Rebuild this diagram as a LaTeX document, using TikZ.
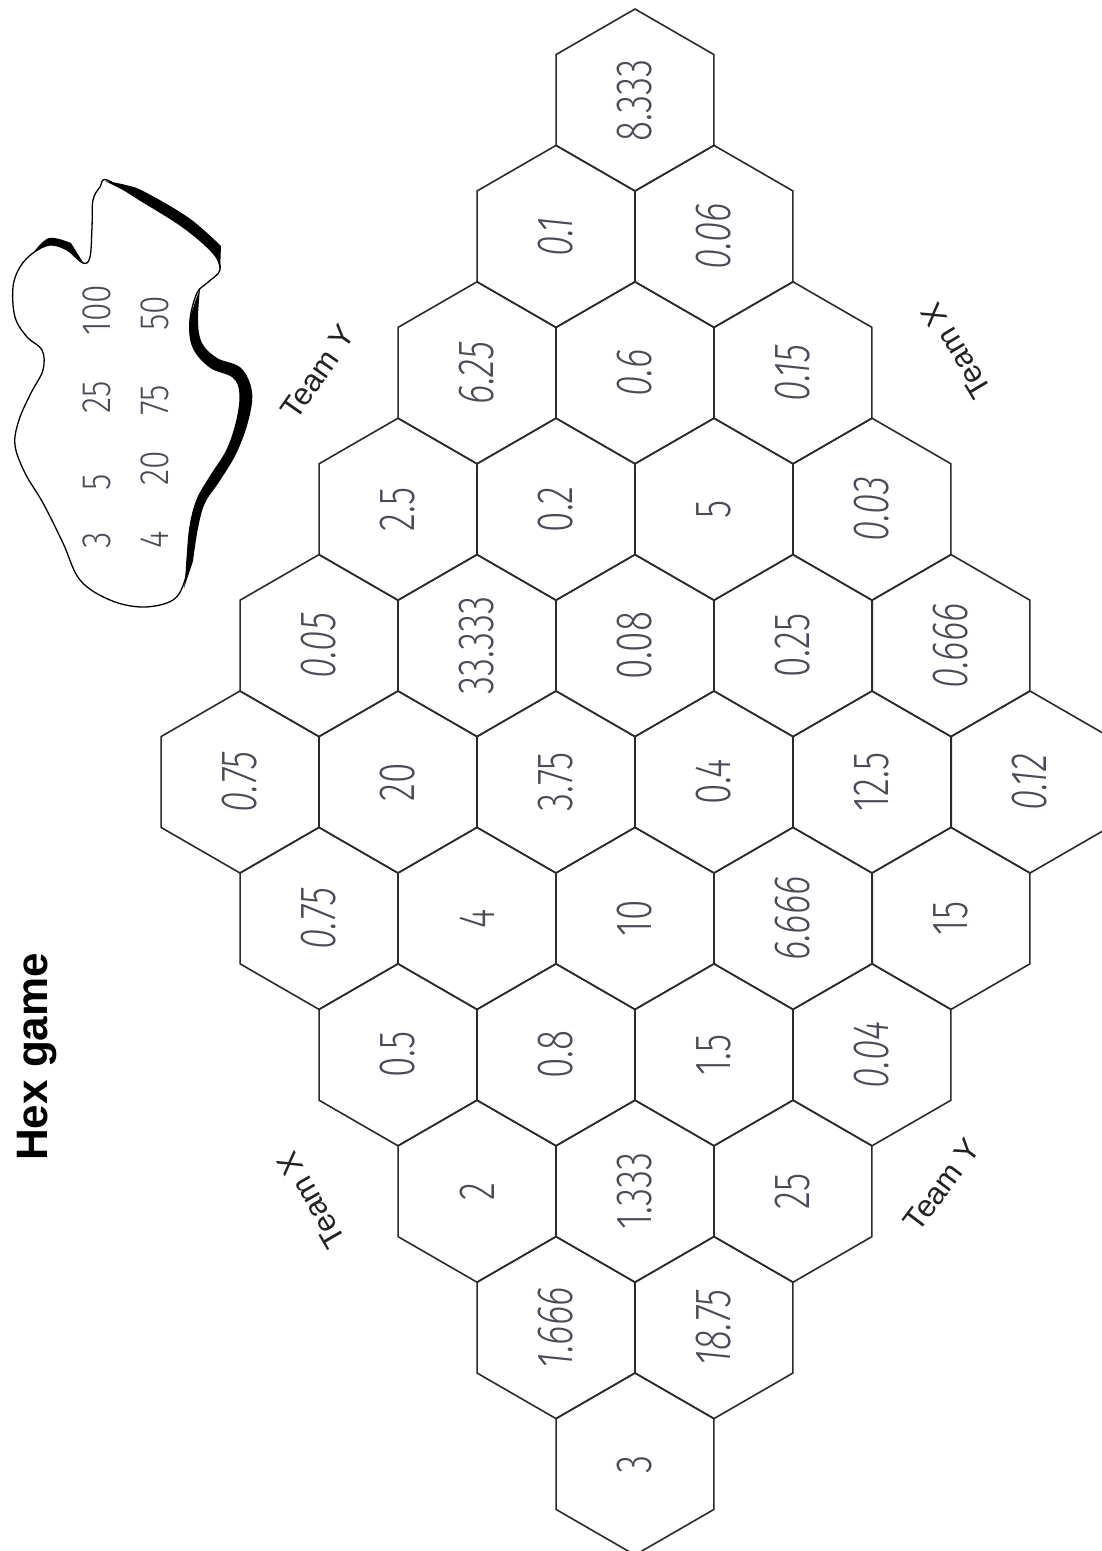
\documentclass[tikz,border=0pt]{standalone}
\usepackage{fontspec}
\usepackage{graphicx}
\setmainfont{Liberation Sans}
\newfontfamily\numfont{Fira Sans}[UprightFont={* Light},ItalicFont={* Light Italic}]
\usetikzlibrary{shapes.geometric}
\definecolor{hexline}{HTML}{2B2B2B}
\definecolor{numcol}{HTML}{4A4A58}
\definecolor{lblcol}{HTML}{222222}
\begin{document}
\begin{tikzpicture}[x=1pt,y=-1pt,
  hexcell/.style={regular polygon, regular polygon sides=6, regular polygon rotate=30,
    minimum size=182pt, inner sep=0pt, outer sep=0pt, draw=hexline, line width=1.6pt},
  numtxt/.style={text=numcol, inner sep=0pt, rotate=90, font={\numfont\fontsize{51}{60}\selectfont}},
  blobnum/.style={text=numcol, inner sep=0pt, rotate=90, font={\numfont\fontsize{41}{48}\selectfont}},
  teamlbl/.style={text=lblcol, inner sep=0pt, font={\fontsize{31}{36}\selectfont}},
  blobline/.style={draw=black, line width=1.3pt},
  blobfill/.style={fill=black}
]
\fill[white] (0,0) rectangle (1102,1551);
\useasboundingbox (0,0) rectangle (1102,1551);

% board
\foreach \n/\r/\k/\txt/\st in {
 1/1/0/8.333/\upshape,
 2/2/-1/0.1/\itshape, 3/2/1/0.06/\itshape,
 4/3/-2/6.25/\itshape, 5/3/0/0.6/\itshape, 6/3/2/0.15/\itshape,
 7/4/-3/2.5/\upshape, 8/4/-1/0.2/\upshape, 9/4/1/5/\upshape, 10/4/3/0.03/\itshape,
 11/5/-4/0.05/\itshape, 12/5/-2/33.333/\upshape, 13/5/0/0.08/\upshape, 14/5/2/0.25/\upshape, 15/5/4/0.666/\itshape,
 16/6/-5/0.75/\itshape, 17/6/-3/20/\upshape, 18/6/-1/3.75/\upshape, 19/6/1/0.4/\upshape, 20/6/3/12.5/\upshape, 21/6/5/0.12/\itshape,
 22/7/-4/0.75/\itshape, 23/7/-2/4/\upshape, 24/7/0/10/\upshape, 25/7/2/6.666/\itshape, 26/7/4/15/\upshape,
 27/8/-3/0.5/\upshape, 28/8/-1/0.8/\upshape, 29/8/1/1.5/\upshape, 30/8/3/0.04/\itshape,
 31/9/-2/2/\upshape, 32/9/0/1.333/\upshape, 33/9/2/25/\upshape,
 34/10/-1/1.666/\itshape, 35/10/1/18.75/\itshape,
 36/11/0/3/\upshape}
{
  \node[hexcell] (h\n) at ({635+79*\k},{100+136.4*(\r-1)}) {};
  \node[numtxt] (t\n) at (h\n.center) {\scalebox{0.73}[1]{\st\txt}};
}

% title
\node[font={\bfseries\fontsize{44}{50}\selectfont}, text=black, rotate=90, anchor=base west, inner sep=0pt] (title) at (47,1161) {Hex game};

% team labels
\node[teamlbl, rotate=55] (ty1) at (318,372) {Team Y};
\node[teamlbl, rotate=121] (tx1) at (956,351) {Team X};
\node[teamlbl, rotate=120] (tx2) at (311,1200) {Team X};
\node[teamlbl, rotate=53] (ty2) at (942,1185) {Team Y};

% blob outline
\draw[blobline] plot[smooth cycle, tension=0.6] coordinates {
 (107,180) (140,200) (183,227) (213,253) (220,270) (207,283) (197,293)
 (190,320) (193,347) (210,367) (233,377) (240,393) (237,420) (227,450)
 (210,477) (197,500) (190,527) (187,560) (185,580) (173,600) (143,607)
 (110,600) (80,580) (63,543) (43,503) (25,473) (15,445) (19,420) (31,393)
 (43,370) (42,350) (27,337) (15,317) (13,287) (20,267) (33,253) (50,245)
 (67,250) (83,263) (90,257) (92,227) (93,200) (100,187)};
% thick shading strokes (tapered)
\fill[blobfill] plot[smooth, tension=0.6] coordinates {
 (105,181) (123,190) (140,200) (183,227) (213,253) (220,271)}
 -- plot[smooth, tension=0.6] coordinates {
 (221,246) (189,218) (145,192) (126,185) (105,181)} -- cycle;
\fill[blobfill] plot[smooth, tension=0.6] coordinates {
 (200,289) (190,320) (193,347) (210,367) (233,377) (240,393) (237,420) (227,450)
 (210,477) (197,500) (190,527) (187,560) (184,588)}
 -- plot[smooth, tension=0.6] coordinates {
 (193,561) (198,528) (205,503) (219,482) (236,454) (248,422) (252,392)
 (241,368) (217,358) (202,343) (198,321) (200,289)} -- cycle;
\fill[blobfill] plot[smooth, tension=0.6] coordinates {
 (33,253) (50,245) (67,250) (84,264)}
 -- plot[smooth, tension=0.6] coordinates {
 (71,243) (49,238) (33,253)} -- cycle;

% blob numbers
\node[blobnum] (b1) at (97,540) {\scalebox{0.82}[1]{3}};
\node[blobnum] (b2) at (97,482) {\scalebox{0.82}[1]{5}};
\node[blobnum] (b3) at (97,397) {\scalebox{0.82}[1]{25}};
\node[blobnum] (b4) at (97,310) {\scalebox{0.82}[1]{100}};
\node[blobnum] (b5) at (155,540) {\scalebox{0.82}[1]{4}};
\node[blobnum] (b6) at (155,468) {\scalebox{0.82}[1]{20}};
\node[blobnum] (b7) at (155,400) {\scalebox{0.82}[1]{75}};
\node[blobnum] (b8) at (155,313) {\scalebox{0.82}[1]{50}};
\end{tikzpicture}
\end{document}
